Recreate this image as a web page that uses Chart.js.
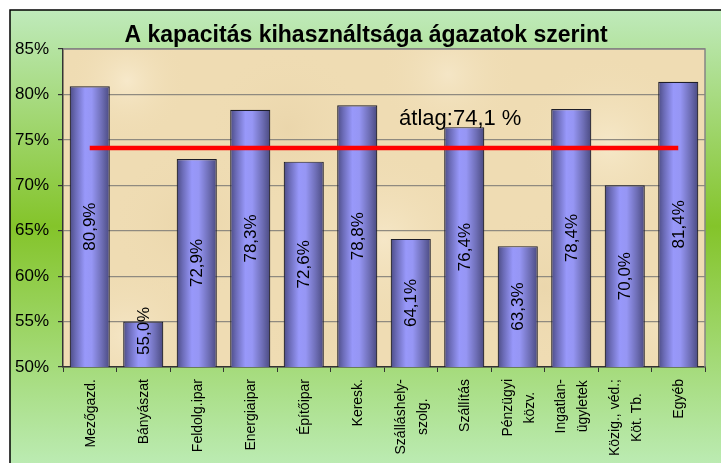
<!DOCTYPE html>
<html>
<head>
<meta charset="utf-8">
<script src="https://cdn.jsdelivr.net/npm/chart.js@4.4.0/dist/chart.umd.min.js"></script>
<style>
  html, body { margin: 0; padding: 0; background: #fff; }
</style>
</head>
<body>
<canvas id="myChart" width="721" height="463"></canvas>
<script>
// data
let categories = ["Mezőgazd.", "Bányászat", "Feldolg.ipar", "Energiaipar", "Építőipar", "Keresk.",
  ["Szálláshely-", "szolg."], "Szállítás", ["Pénzügyi", "közv."], ["Ingatlan-", "ügyletek"],
  ["Közig., véd.;", "Köt. Tb."], "Egyéb"];
let capacity = [80.9, 55.0, 72.9, 78.3, 72.6, 78.8, 64.1, 76.4, 63.3, 78.4, 70.0, 81.4];
let avgValue = 74.1;
let avgLine = categories.map(() => avgValue);
let yTicks = [50, 55, 60, 65, 70, 75, 80, 85];
let chartTitle = "A kapacitás kihasználtsága ágazatok szerint";

let fmt = (v) => v.toFixed(1).replace(".", ",") + "%";

let ctx = document.getElementById("myChart").getContext("2d");

let barFill = (c) => {
  let chart = c.chart;
  let area = chart.chartArea;
  if (!area || c.dataIndex === undefined) return "#9999ff";
  let cx = chart.scales.x.getPixelForValue(c.dataIndex);
  let w = (area.width / categories.length) * 0.75;
  let g = chart.ctx.createLinearGradient(cx - w / 2, 0, cx + w / 2, 0);
  g.addColorStop(0, "#4c4c84");
  g.addColorStop(0.15, "#6c6cb8");
  g.addColorStop(0.38, "#9898fa");
  g.addColorStop(0.55, "#9696f4");
  g.addColorStop(0.8, "#6e6eb6");
  g.addColorStop(1, "#4a4a80");
  return g;
};

// background frame + parchment plot area
let backdrop = {
  id: "backdrop",
  beforeDraw(chart) {
    let c = chart.ctx;
    let a = chart.chartArea;
    c.save();
    c.fillStyle = "#fff";
    c.fillRect(0, 0, chart.width, chart.height);
    let g = c.createLinearGradient(0, 10, 0, 470);
    g.addColorStop(0, "#bfeabb");
    g.addColorStop(0.47, "#84c42a");
    g.addColorStop(1, "#bdecb6");
    c.fillStyle = g;
    c.fillRect(10, 10, chart.width, chart.height);
    c.strokeStyle = "#000";
    c.lineWidth = 1.5;
    c.beginPath();
    c.moveTo(10, chart.height);
    c.lineTo(10, 10);
    c.lineTo(chart.width, 10);
    c.stroke();

    c.fillStyle = "#efdcb3";
    c.fillRect(a.left, a.top, a.width, a.height);
    let spots = [
      [0.1, 0.1, 60, "rgba(250,238,212,0.7)"], [0.35, 0.25, 80, "rgba(230,208,164,0.5)"],
      [0.6, 0.08, 70, "rgba(248,236,210,0.6)"], [0.85, 0.3, 90, "rgba(250,240,214,0.6)"],
      [0.2, 0.55, 80, "rgba(228,206,160,0.45)"], [0.5, 0.6, 90, "rgba(250,238,212,0.6)"],
      [0.75, 0.75, 80, "rgba(230,208,164,0.45)"], [0.1, 0.9, 70, "rgba(248,236,210,0.6)"],
      [0.95, 0.85, 60, "rgba(250,238,212,0.5)"], [0.4, 0.9, 60, "rgba(232,212,170,0.45)"]
    ];
    c.save();
    c.beginPath();
    c.rect(a.left, a.top, a.width, a.height);
    c.clip();
    spots.forEach((s) => {
      let x = a.left + s[0] * a.width, y = a.top + s[1] * a.height;
      let r = c.createRadialGradient(x, y, 0, x, y, s[2]);
      r.addColorStop(0, s[3]);
      r.addColorStop(1, "rgba(239,220,179,0)");
      c.fillStyle = r;
      c.fillRect(x - s[2], y - s[2], s[2] * 2, s[2] * 2);
    });
    c.restore();
    c.restore();
  },
  beforeDatasetsDraw(chart) {
    let c = chart.ctx;
    let a = chart.chartArea;
    c.save();
    c.strokeStyle = "#858585";
    c.lineWidth = 1.5;
    c.beginPath();
    c.moveTo(a.left, a.top);
    c.lineTo(a.right, a.top);
    c.lineTo(a.right, a.bottom);
    c.stroke();
    c.restore();
  }
};

// texts: title, bar values, average, category labels
let texts = {
  id: "texts",
  afterDatasetsDraw(chart) {
    let c = chart.ctx;
    let xs = chart.scales.x;
    let ys = chart.scales.y;
    c.save();
    c.fillStyle = "#000";

    c.font = "bold 23px Arial, 'Liberation Sans'";
    c.textAlign = "center";
    c.textBaseline = "middle";
    c.fillText(chartTitle, 366, 36);

    c.font = "17px Arial, 'Liberation Sans'";
    chart.getDatasetMeta(1).data.forEach((bar, i) => {
      let t = fmt(capacity[i]);
      let w = c.measureText(t).width;
      let base = Math.min(bar.base, ys.bottom);
      let y = Math.min((bar.y + base) / 2, base - 12 - w / 2);
      c.save();
      c.translate(bar.x, y);
      c.rotate(-Math.PI / 2);
      c.fillText(t, 0, 1);
      c.restore();
    });

    c.font = "22px Arial, 'Liberation Sans'";
    c.fillText("átlag:" + avgValue.toFixed(1).replace(".", ",") + " %", xs.getPixelForValue(7) - 4, ys.getPixelForValue(avgValue) - 29);

    c.font = "14px Arial, 'Liberation Sans'";
    categories.forEach((lab, i) => {
      let lines = Array.isArray(lab) ? lab : [lab];
      let maxW = Math.max(...lines.map((l) => c.measureText(l).width));
      let cx = xs.getPixelForValue(i);
      lines.forEach((l, k) => {
        c.save();
        c.translate(cx + (k - (lines.length - 1) / 2) * 22, 379 + maxW / 2);
        c.rotate(-Math.PI / 2);
        c.fillText(l, 0, 1);
        c.restore();
      });
    });
    c.restore();
  }
};

let myChart = new Chart(ctx, {
  data: {
    labels: categories,
    datasets: [
      {
        type: "line",
        label: "átlag",
        data: avgLine,
        borderColor: "#ff0000",
        borderWidth: 4.5,
        pointRadius: 0,
        fill: false,
        order: 0,
      },
      {
        type: "bar",
        label: "kihasználtság",
        data: capacity,
        backgroundColor: barFill,
        borderColor: "#1e1e2a",
        borderWidth: 1.2,
        barPercentage: 0.75,
        categoryPercentage: 1,
        order: 1,
      },
    ],
  },
  options: {
    responsive: false,
    animation: false,
    devicePixelRatio: 1,
    layout: { padding: { top: 49, right: 16, left: 0, bottom: 0 } },
    plugins: {
      legend: { display: false },
      tooltip: { enabled: false },
      title: { display: false },
    },
    scales: {
      x: {
        ticks: { display: false },
        grid: { offset: true, drawOnChartArea: false, drawTicks: true, tickLength: 5, tickColor: "#333" },
        border: { color: "#333", width: 1.5 },
        afterFit: (s) => { s.height = 96; },
      },
      y: {
        min: yTicks[0],
        max: yTicks[yTicks.length - 1],
        afterBuildTicks: (s) => { s.ticks = yTicks.map((v) => ({ value: v })); },
        ticks: {
          padding: 9,
          color: "#000",
          font: { family: "Arial, 'Liberation Sans'", size: 17 },
          callback: (v) => v + "%",
        },
        grid: { color: "#8f8a80", lineWidth: 1.2, tickLength: 5, tickColor: "#333" },
        border: { color: "#333", width: 1.5 },
        afterFit: (s) => { s.width = 63; },
      },
    },
  },
  plugins: [backdrop, texts],
});
</script>
</body>
</html>
